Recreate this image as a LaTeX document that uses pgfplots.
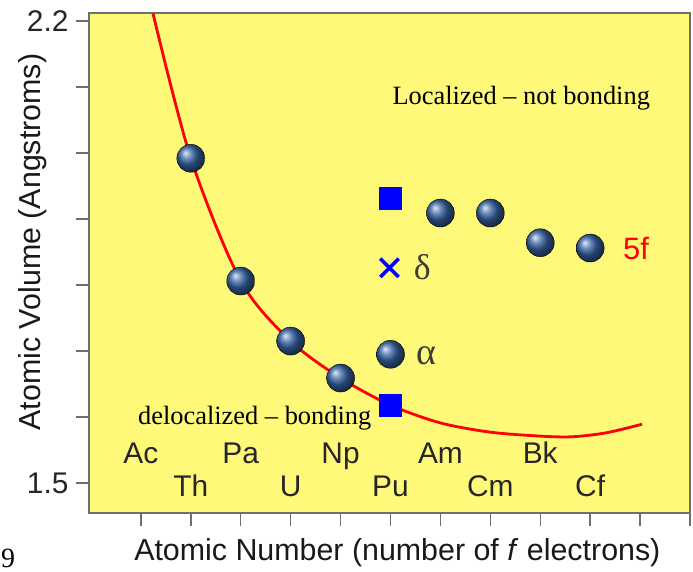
\documentclass[border=0pt]{standalone}
\usepackage{pgfplots}
\pgfplotsset{compat=1.18}
\usepackage{fontspec}
\setmainfont{Liberation Sans}
\newfontfamily\serif{Liberation Serif}
\definecolor{bgyellow}{RGB}{255,249,122}
\definecolor{ballblue}{RGB}{55,100,165}
\definecolor{axgray}{RGB}{110,110,110}
\definecolor{greek}{RGB}{60,60,60}
\newcommand{\sz}[1]{\fontsize{#1}{#1}\selectfont}
\tikzset{elem/.style={anchor=base, font=\sz{30}, text=black!85}}
\begin{document}
\begin{tikzpicture}
\begin{axis}[
 scale only axis, width=601bp, height=500bp,
 xmin=-1.04, xmax=11, ymin=1.4545, ymax=2.2121,
 axis background/.style={fill=bgyellow},
 axis line style={draw=axgray, line width=1.5bp},
 xtick={0,...,11}, xticklabels={},
 ytick={1.5,1.6,1.7,1.8,1.9,2.0,2.1,2.2},
 yticklabels={1.5,,,,,,,2.2},
 tick align=outside, xtick pos=lower, ytick pos=left,
 major tick length=13bp,
 tick style={draw=axgray, line width=1.5bp},
 yticklabel style={font=\sz{30}, text=black!85, xshift=-4bp},
 xlabel={Atomic Number (number of \textit{f} electrons)},
 ylabel={Atomic Volume (Angstroms)},
 label style={font=\sz{30.5}, text=black!90},
 xlabel style={at={(axis description cs:0.513,-0.08)}, anchor=center},
 ylabel style={at={(axis description cs:-0.0932,0.542)}, anchor=center},
 clip=false,
]
% red 5f trend curve
\addplot[red, line width=2.8bp, smooth] coordinates {
 (0.24,2.2121) (1,1.992) (2,1.806) (3,1.715)
 (4,1.659) (5,1.618) (6,1.591) (7,1.577) (8,1.571) (8.64,1.570)
 (9.32,1.576) (10.04,1.589)};
% atomic volumes (balls)
\addplot[only marks, mark=ball, mark size=14bp, mark options={ball color=ballblue}] coordinates {
 (1,1.992) (2,1.806) (3,1.715) (4,1.659) (5,1.695)
 (6,1.909) (7,1.909) (8,1.864) (9,1.856)};
% Pu squares
\addplot[only marks, mark=square*, mark size=11bp, blue] coordinates {
 (5,1.932) (5,1.618)};
% Pu delta cross
\addplot[only marks, mark=x, mark size=13bp, blue, line width=3.5bp] coordinates {
 (4.98,1.826)};
% element labels
\node[elem] at (axis cs:0,1.530) {Ac};
\node[elem] at (axis cs:1,1.479) {Th};
\node[elem] at (axis cs:2,1.530) {Pa};
\node[elem] at (axis cs:3,1.479) {U};
\node[elem] at (axis cs:4,1.530) {Np};
\node[elem] at (axis cs:5,1.479) {Pu};
\node[elem] at (axis cs:6,1.530) {Am};
\node[elem] at (axis cs:7,1.479) {Cm};
\node[elem] at (axis cs:8,1.530) {Bk};
\node[elem] at (axis cs:9,1.479) {Cf};
\node[anchor=base, font=\serif\sz{26.5}] at (axis cs:7.62,2.0742) {Localized – not bonding};
\node[anchor=base, font=\serif\sz{26.5}] at (axis cs:2.28,1.588) {delocalized – bonding};
\node[anchor=base, font=\sz{31}, text=red] at (axis cs:9.92,1.838) {5f};
\node[anchor=base, font=\serif\sz{36}, text=greek] at (axis cs:5.64,1.808) {δ};
\node[anchor=base, font=\serif\sz{38}, text=greek] at (axis cs:5.72,1.679) {α};
\end{axis}
\node[anchor=base west, font=\serif\sz{28}, inner sep=0] at (-88bp,-54bp) {9};
\pgfresetboundingbox
\path[use as bounding box] (-89bp,-59bp) rectangle (604bp,513bp);
\end{tikzpicture}
\end{document}
